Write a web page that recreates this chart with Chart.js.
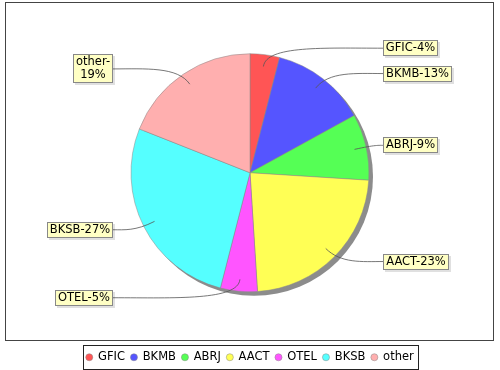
<!DOCTYPE html>
<html>
<head>
<meta charset="utf-8">
<script src="https://cdn.jsdelivr.net/npm/chart.js@4.4.1/dist/chart.umd.min.js"></script>
<style>
  html, body { margin: 0; padding: 0; background: #fff; }
  #wrap { width: 500px; height: 370px; position: relative; }
</style>
</head>
<body>
<div id="wrap"><canvas id="pieChart"></canvas></div>
<script>
// du lieu bieu do
var categories = ['GFIC', 'BKMB', 'ABRJ', 'AACT', 'OTEL', 'BKSB', 'other'];
var shares = [4, 13, 9, 23, 5, 27, 19];
var colors = ['#ff5555', '#5555ff', '#55ff55', '#ffff55', '#ff55ff', '#55ffff', '#ffafaf'];
var wrappedLabels = ['other'];

var FONT = '"DejaVu Sans", sans-serif';

// khung, bong va vien chu giai
var plotFrame = {
    id: 'plotFrame',
    beforeDraw: function(chart) {
        var ctx = chart.ctx;
        ctx.save();
        ctx.fillStyle = '#fff';
        ctx.fillRect(0, 0, chart.width, chart.height);
        ctx.strokeStyle = '#444';
        ctx.lineWidth = 1;
        ctx.strokeRect(5.5, 2.5, 488, 338);
        ctx.restore();
    },
    beforeDatasetsDraw: function(chart) {
        var arc = chart.getDatasetMeta(0).data[0];
        var ctx = chart.ctx;
        ctx.save();
        ctx.fillStyle = '#8c8c8c';
        ctx.beginPath();
        ctx.arc(arc.x + 4, arc.y + 4, arc.outerRadius, 0, Math.PI * 2);
        ctx.fill();
        ctx.restore();
    },
    afterDraw: function(chart) {
        var boxes = chart.legend.legendHitBoxes;
        if (!boxes || !boxes.length) return;
        var left = Infinity, right = -Infinity;
        boxes.forEach(function(b) {
            left = Math.min(left, b.left);
            right = Math.max(right, b.left + b.width);
        });
        var top = boxes[0].top, h = boxes[0].height;
        var ctx = chart.ctx;
        ctx.save();
        ctx.strokeStyle = '#222';
        ctx.lineWidth = 1;
        ctx.strokeRect(Math.round(left - 3) + 0.5, Math.round(top + h / 2 - 12) + 0.5,
            Math.round(right - left + 8), 24);
        ctx.restore();
    }
};

// nhan co duong noi
var pieLabels = {
    id: 'pieLabels',
    afterDatasetsDraw: function(chart) {
        var ctx = chart.ctx;
        var meta = chart.getDatasetMeta(0);
        var total = shares.reduce(function(a, b) { return a + b; }, 0);
        ctx.save();
        ctx.font = '11.5px ' + FONT;
        ctx.textAlign = 'center';
        ctx.textBaseline = 'middle';
        meta.data.forEach(function(arc, i) {
            var mid = (arc.startAngle + arc.endAngle) / 2;
            var r = arc.outerRadius;
            var dx = Math.cos(mid), dy = Math.sin(mid);
            var ax = arc.x + dx * r * 0.9, ay = arc.y + dy * r * 0.9;
            var ly = arc.y + dy * r * 1.055;
            var right = dx >= 0;
            var pct = Math.round(shares[i] * 100 / total);
            var lines = wrappedLabels.indexOf(categories[i]) >= 0
                ? [categories[i] + '-', pct + '%']
                : [categories[i] + '-' + pct + '%'];
            var tw = 0;
            lines.forEach(function(t) { tw = Math.max(tw, ctx.measureText(t).width); });
            var bw = Math.round(tw + 6), bh = lines.length * 13 + 3;
            var edge = right ? arc.x + r + 14 : arc.x - r - 18;
            var bx = Math.round(right ? edge : edge - bw);
            var by = Math.round(ly - bh / 2);

            var c1x = arc.x + dx * r * 1.08, c1y = arc.y + dy * r * 1.08;
            ctx.strokeStyle = '#555';
            ctx.lineWidth = 0.8;
            ctx.beginPath();
            ctx.moveTo(ax, ay);
            ctx.bezierCurveTo(c1x, c1y, (c1x + edge) / 2, ly, edge, ly);
            ctx.stroke();

            ctx.fillStyle = 'rgba(0,0,0,0.12)';
            ctx.fillRect(bx + 2, by + 2, bw, bh);
            ctx.fillStyle = '#ffffc4';
            ctx.fillRect(bx, by, bw, bh);
            ctx.strokeStyle = '#888';
            ctx.lineWidth = 1;
            ctx.strokeRect(bx + 0.5, by + 0.5, bw - 1, bh - 1);

            ctx.fillStyle = '#000';
            lines.forEach(function(t, k) {
                ctx.fillText(t, bx + bw / 2, by + 2 + 6.5 + k * 13);
            });
        });
        ctx.restore();
    }
};

var chart = new Chart('pieChart', {
    type: 'pie',
    data: {
        labels: categories,
        datasets: [{
            data: shares,
            backgroundColor: colors,
            borderColor: '#888',
            borderWidth: 0.5,
            radius: 119
        }]
    },
    options: {
        responsive: true,
        maintainAspectRatio: false,
        animation: false,
        devicePixelRatio: 1,
        layout: { padding: { top: -4, bottom: -3, left: 0, right: 0 } },
        plugins: {
            legend: {
                position: 'bottom',
                labels: {
                    usePointStyle: true,
                    pointStyle: 'circle',
                    boxWidth: 6,
                    boxHeight: 5,
                    padding: 6,
                    color: '#000',
                    font: { family: FONT, size: 11.5 }
                }
            },
            tooltip: { enabled: false }
        }
    },
    plugins: [plotFrame, pieLabels]
});
</script>
</body>
</html>
